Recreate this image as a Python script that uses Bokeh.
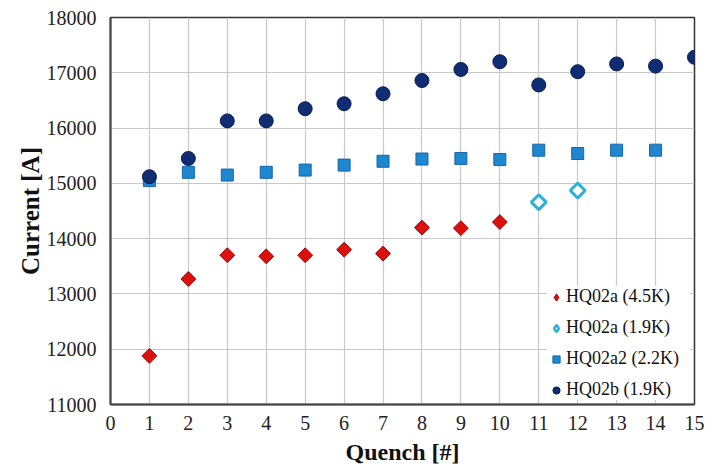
import math
from bokeh.plotting import figure
from bokeh.models import Range1d, FixedTicker, Legend, LegendItem
from bokeh.embed import file_html
from bokeh.resources import INLINE

x_a45 = [1, 2, 3, 4, 5, 6, 7, 8, 9, 10]
y_a45 = [11880, 13270, 13700, 13680, 13700, 13800, 13730, 14200, 14190, 14300]
x_a19 = [11, 12]
y_a19 = [14660, 14870]
x_a2 = [1, 2, 3, 4, 5, 6, 7, 8, 9, 10, 11, 12, 13, 14]
y_a2 = [15050, 15200, 15150, 15200, 15240, 15330, 15400, 15440, 15450, 15430, 15600, 15540, 15600, 15600]
x_b = [1, 2, 3, 4, 5, 6, 7, 8, 9, 10, 11, 12, 13, 14, 15]
y_b = [15120, 15450, 16130, 16130, 16350, 16440, 16620, 16860, 17060, 17200, 16780, 17020, 17160, 17120, 17280]
labels = ["HQ02a (4.5K)", "HQ02a (1.9K)", "HQ02a2 (2.2K)", "HQ02b (1.9K)"]

FONT = "Liberation Serif"

p = figure(width=714, height=467, output_backend="svg", toolbar_location=None,
           x_range=Range1d(0, 15), y_range=Range1d(11000, 18000),
           min_border_left=110, min_border_right=20, min_border_top=17, min_border_bottom=60)
p.background_fill_color = "white"
p.border_fill_color = "white"
p.outline_line_color = "#333333"
p.outline_line_width = 1.5

p.xaxis.ticker = FixedTicker(ticks=list(range(0, 16)))
p.yaxis.ticker = FixedTicker(ticks=list(range(11000, 18001, 1000)))
for ax in (p.xaxis[0], p.yaxis[0]):
    ax.major_label_text_font = FONT
    ax.major_label_text_font_size = "20px"
    ax.major_label_text_font_style = "normal"
    ax.major_label_text_color = "#222222"
    ax.axis_label_text_font = FONT
    ax.axis_label_text_font_style = "bold"
    ax.axis_label_text_color = "#111111"
    ax.major_tick_line_color = None
    ax.minor_tick_line_color = None
    ax.axis_line_color = "#444444"
    ax.axis_line_width = 2
p.xaxis.axis_label = "Quench [#]"
p.yaxis.axis_label = "Current [A]"
p.xaxis.axis_label_text_font_size = "24px"
p.yaxis.axis_label_text_font_size = "25px"
p.xaxis.major_label_standoff = 5
p.yaxis.major_label_standoff = 8
p.xaxis.axis_label_standoff = 6
p.yaxis.axis_label_standoff = 0

p.xgrid.grid_line_color = "#c8c8c8"
p.ygrid.grid_line_color = "#c8c8c8"
p.xgrid.grid_line_width = 1.2
p.ygrid.grid_line_width = 1.2

rot = math.pi / 4
# legend-shape glyphs (drawn underneath and hidden by the plot markers)
l1 = p.scatter(x_a45, y_a45, marker="diamond", size=6, fill_color="#dd1010", line_color="#a00000", line_width=1)
l2 = p.scatter(x_a19, y_a19, marker="diamond", size=6, fill_color="white", line_color="#2ab0da", line_width=2.5)

r1 = p.scatter(x_a45, y_a45, marker="square", angle=rot, size=10.5, fill_color="#dd1010", line_color="#a00000", line_width=1)
r2 = p.scatter(x_a19, y_a19, marker="square", angle=rot, size=10.5, fill_color="white", line_color="#2ab0da", line_width=3)
r3 = p.scatter(x_a2, y_a2, marker="square", size=12, fill_color="#1f86d0", line_color="#1565a8", line_width=1)
r4 = p.scatter(x_b, y_b, marker="circle", size=14, fill_color="#102c72", line_color="#0a1d50", line_width=1)

legend = Legend(items=[LegendItem(label=labels[0], renderers=[l1]),
                       LegendItem(label=labels[1], renderers=[l2]),
                       LegendItem(label=labels[2], renderers=[r3]),
                       LegendItem(label=labels[3], renderers=[r4])],
                location="bottom_right")
legend.label_text_font = FONT
legend.label_text_font_size = "18px"
legend.label_text_color = "#111111"
legend.border_line_color = None
legend.background_fill_color = "white"
legend.background_fill_alpha = 1.0
legend.glyph_width = 18
legend.glyph_height = 18
legend.label_height = 21
legend.label_width = 124
legend.label_standoff = 1
legend.spacing = 10
legend.padding = 7
legend.margin = 4
p.add_layout(legend)

open("out.html", "w").write(file_html(p, INLINE))
